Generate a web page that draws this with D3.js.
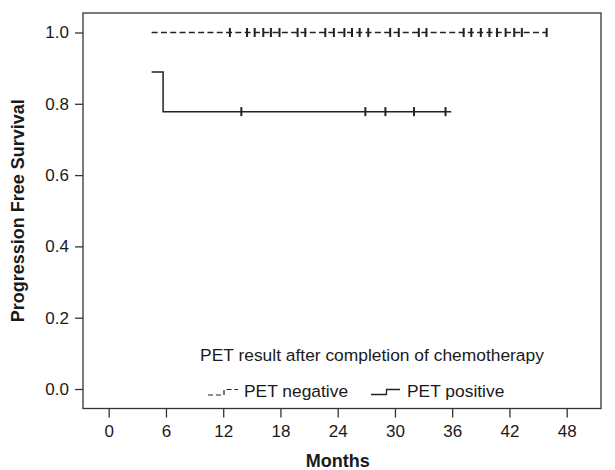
<!DOCTYPE html>
<html>
<head>
<meta charset="utf-8">
<script src="https://cdn.jsdelivr.net/npm/d3@7"></script>
<style>
  body { margin: 0; background: #fff; }
  svg text { font-family: "Liberation Sans", Arial, sans-serif; fill: #1a1a1a; }
</style>
</head>
<body>
<svg id="chart" width="615" height="470"></svg>
<script>
// x ticks (months) and y ticks
const monthTicks = [0, 6, 12, 18, 24, 30, 36, 42, 48];
const survTicks = [0, 0.2, 0.4, 0.6, 0.8, 1.0];

// PET negative: no events, flat at 1.0
const negTimes = [4.5, 45.9];
const negSurv = [1.0, 1.0];
const negCensor = [12.7, 14.5, 15.3, 16.2, 17.0, 17.9, 19.8, 20.6, 22.7, 23.6, 24.7, 25.5,
  26.3, 27.2, 29.5, 30.4, 32.5, 33.3, 37.2, 38.0, 39.0, 39.9, 40.7, 41.6, 42.5, 43.3, 45.9];

// PET positive
const posTimes = [4.5, 5.7, 35.9];
const posSurv = [0.889, 0.778, 0.778];
const posCensor = [13.9, 26.9, 29.0, 32.0, 35.3];

const svg = d3.select("#chart");

const x = d3.scaleLinear().domain([0, 48]).range([108.7, 566.7]);
const y = d3.scaleLinear().domain([0, 1]).range([389, 32.5]);

const box = { left: 83, top: 13, right: 601, bottom: 408.5 };

// plot frame
svg.append("rect")
    .attr("x", box.left)
    .attr("y", box.top)
    .attr("width", box.right - box.left)
    .attr("height", box.bottom - box.top)
    .attr("fill", "none")
    .attr("stroke", "#333")
    .attr("stroke-width", 1.3);

// x axis
const xAxis = svg.append("g")
    .attr("transform", `translate(0, ${box.bottom})`)
    .call(d3.axisBottom(x).tickValues(monthTicks).tickSize(9).tickPadding(7));
xAxis.select(".domain").remove();
xAxis.selectAll("line").attr("stroke", "#333").attr("stroke-width", 1.3);
xAxis.selectAll("text").style("font-size", "17px");

// y axis
const yAxis = svg.append("g")
    .attr("transform", `translate(${box.left}, 0)`)
    .call(d3.axisLeft(y).tickValues(survTicks).tickFormat(d3.format(".1f")).tickSize(8).tickPadding(6));
yAxis.select(".domain").remove();
yAxis.selectAll("line").attr("stroke", "#333").attr("stroke-width", 1.3);
yAxis.selectAll("text").style("font-size", "17px");

// axis titles
svg.append("text")
    .attr("x", x(24))
    .attr("y", 467)
    .attr("text-anchor", "middle")
    .style("font-size", "18px")
    .style("font-weight", "bold")
    .text("Months");

svg.append("text")
    .attr("transform", `translate(24, ${y(0.5)}) rotate(-90)`)
    .attr("text-anchor", "middle")
    .style("font-size", "18px")
    .style("font-weight", "bold")
    .text("Progression Free Survival");

const line = d3.line()
    .x((d) => x(d[0]))
    .y((d) => y(d[1]))
    .curve(d3.curveStepAfter);

// PET negative curve (dashed)
svg.append("path")
    .datum(d3.zip(negTimes, negSurv))
    .attr("d", line)
    .attr("fill", "none")
    .attr("stroke", "#222")
    .attr("stroke-width", 1.3)
    .attr("stroke-dasharray", "6,3.3");

// PET positive curve (solid)
svg.append("path")
    .datum(d3.zip(posTimes, posSurv))
    .attr("d", line)
    .attr("fill", "none")
    .attr("stroke", "#222")
    .attr("stroke-width", 1.5);

// censor marks
svg.selectAll(".cens-neg")
    .data(negCensor)
    .enter()
    .append("line")
    .attr("x1", (d) => x(d))
    .attr("x2", (d) => x(d))
    .attr("y1", y(1) - 4.5)
    .attr("y2", y(1) + 4.5)
    .attr("stroke", "#222")
    .attr("stroke-width", 2);

svg.selectAll(".cens-pos")
    .data(posCensor)
    .enter()
    .append("line")
    .attr("x1", (d) => x(d))
    .attr("x2", (d) => x(d))
    .attr("y1", y(0.778) - 4.5)
    .attr("y2", y(0.778) + 4.5)
    .attr("stroke", "#222")
    .attr("stroke-width", 2);

// legend
svg.append("text")
    .attr("x", 372)
    .attr("y", 361)
    .attr("text-anchor", "middle")
    .style("font-size", "17.4px")
    .text("PET result after completion of chemotherapy");

// legend keys: little step shapes
svg.append("path")
    .attr("d", "M208,395 H224 V389.5 H238")
    .attr("fill", "none")
    .attr("stroke", "#222")
    .attr("stroke-width", 1.2)
    .attr("stroke-dasharray", "5,3");

svg.append("text")
    .attr("x", 244)
    .attr("y", 396.5)
    .style("font-size", "17.4px")
    .text("PET negative");

svg.append("path")
    .attr("d", "M371,394.5 H386.5 V389.5 H400")
    .attr("fill", "none")
    .attr("stroke", "#222")
    .attr("stroke-width", 1.3);

svg.append("text")
    .attr("x", 407)
    .attr("y", 396.5)
    .style("font-size", "17.4px")
    .text("PET positive");
</script>
</body>
</html>
